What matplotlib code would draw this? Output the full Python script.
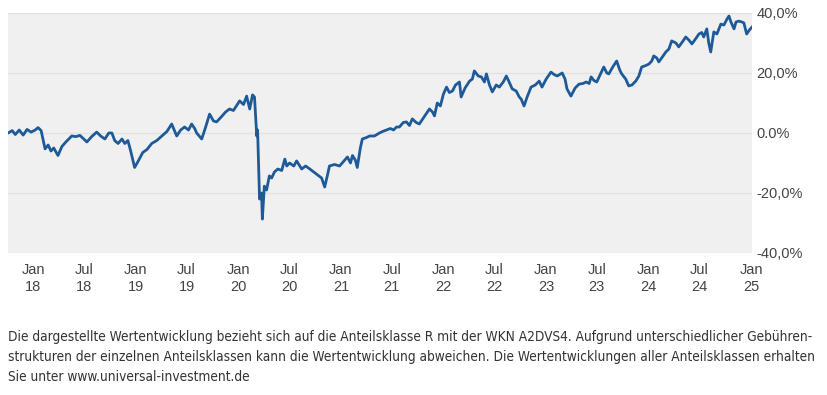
import matplotlib
matplotlib.use("Agg")
import matplotlib.pyplot as plt
import pandas as pd
from matplotlib import font_manager

dates = [
    "2017-10-03", "2017-10-18", "2017-10-29", "2017-11-12", "2017-11-26", "2017-12-10", "2017-12-24",
    "2018-01-08", "2018-01-18", "2018-01-29", "2018-02-12", "2018-02-23", "2018-03-05", "2018-03-15",
    "2018-03-30", "2018-04-13", "2018-04-27", "2018-05-18", "2018-06-02", "2018-06-16", "2018-06-30",
    "2018-07-11", "2018-07-28", "2018-08-15", "2018-08-29", "2018-09-13", "2018-09-27", "2018-10-08",
    "2018-10-18", "2018-10-30", "2018-11-13", "2018-11-23", "2018-12-04", "2018-12-14", "2018-12-28",
    "2019-01-09", "2019-01-26", "2019-02-10", "2019-02-27", "2019-03-17", "2019-04-04", "2019-04-22",
    "2019-05-09", "2019-05-20", "2019-05-27", "2019-06-10", "2019-06-24", "2019-07-08", "2019-07-19",
    "2019-07-30", "2019-08-06", "2019-08-24", "2019-09-07", "2019-09-21", "2019-10-05", "2019-10-16",
    "2019-11-03", "2019-11-17", "2019-12-01", "2019-12-15", "2020-01-06", "2020-01-20", "2020-01-31",
    "2020-02-11", "2020-02-21", "2020-02-28", "2020-03-07", "2020-03-10", "2020-03-17", "2020-03-24",
    "2020-03-27", "2020-04-03", "2020-04-11", "2020-04-21", "2020-04-29", "2020-05-09", "2020-05-21",
    "2020-06-04", "2020-06-15", "2020-06-22", "2020-07-02", "2020-07-17", "2020-07-27", "2020-08-14",
    "2020-08-28", "2020-09-12", "2020-09-26", "2020-10-10", "2020-10-24", "2020-11-04", "2020-11-14",
    "2020-11-21", "2020-12-09", "2020-12-27", "2021-01-10", "2021-01-24", "2021-02-04", "2021-02-11",
    "2021-02-21", "2021-02-28", "2021-03-11", "2021-03-18", "2021-04-02", "2021-04-13", "2021-04-30",
    "2021-05-18", "2021-05-29", "2021-06-12", "2021-06-26", "2021-07-07", "2021-07-18", "2021-07-28",
    "2021-08-11", "2021-08-22", "2021-09-02", "2021-09-12", "2021-09-26", "2021-10-07", "2021-10-25",
    "2021-11-12", "2021-11-23", "2021-11-30", "2021-12-10", "2021-12-21", "2022-01-01", "2022-01-12",
    "2022-01-22", "2022-02-02", "2022-02-13", "2022-02-27", "2022-03-05", "2022-03-19", "2022-04-04",
    "2022-04-14", "2022-04-21", "2022-05-05", "2022-05-16", "2022-05-27", "2022-06-03", "2022-06-14",
    "2022-06-24", "2022-07-08", "2022-07-19", "2022-08-02", "2022-08-13", "2022-08-23", "2022-09-03",
    "2022-09-17", "2022-09-28", "2022-10-05", "2022-10-15", "2022-10-26", "2022-11-09", "2022-11-24",
    "2022-12-08", "2022-12-18", "2023-01-02", "2023-01-19", "2023-01-30", "2023-02-10", "2023-02-28",
    "2023-03-10", "2023-03-17", "2023-03-31", "2023-04-15", "2023-04-29", "2023-05-13", "2023-05-24",
    "2023-06-04", "2023-06-11", "2023-06-21", "2023-07-01", "2023-07-16", "2023-07-26", "2023-08-06",
    "2023-08-13", "2023-08-27", "2023-09-10", "2023-09-21", "2023-09-28", "2023-10-12", "2023-10-23",
    "2023-11-03", "2023-11-17", "2023-11-28", "2023-12-08", "2023-12-23", "2024-01-03", "2024-01-13",
    "2024-01-20", "2024-01-31", "2024-02-07", "2024-02-21", "2024-03-03", "2024-03-14", "2024-03-24",
    "2024-04-08", "2024-04-18", "2024-05-02", "2024-05-13", "2024-05-24", "2024-06-04", "2024-06-18",
    "2024-06-29", "2024-07-09", "2024-07-16", "2024-07-27", "2024-08-03", "2024-08-10", "2024-08-21",
    "2024-09-01", "2024-09-15", "2024-09-26", "2024-10-07", "2024-10-14", "2024-10-21", "2024-11-01",
    "2024-11-08", "2024-11-18", "2024-11-29", "2024-12-06", "2024-12-16", "2024-12-27", "2025-01-04",
]

performance = [
    0.0, 0.8, -0.5, 1.0, -0.7, 1.2, 0.3,
    1.0, 1.8, 0.8, -5.3, -4.0, -6.0, -5.0,
    -7.5, -4.5, -3.0, -1.0, -1.2, -0.8, -2.0,
    -3.0, -1.2, 0.3, -1.0, -2.0, 0.0, 0.0,
    -2.5, -3.5, -2.0, -3.5, -2.5, -6.0, -11.5,
    -9.5, -6.5, -5.5, -3.5, -2.5, -1.0, 0.5,
    3.0, 0.5, -1.0, 1.0, 2.0, 1.0, 3.0,
    1.5, 0.0, -2.0, 2.0, 6.3, 4.0, 3.7,
    5.5, 7.0, 8.0, 7.5, 10.7, 9.5, 12.3,
    8.0, 12.7, 12.0, -1.0, 1.0, -22.0, -20.0,
    -28.7, -17.7, -19.0, -14.3, -15.0, -13.0, -12.0,
    -12.5, -8.7, -11.0, -10.0, -11.0, -9.3, -12.0,
    -11.0, -12.0, -13.0, -14.0, -15.0, -18.0, -14.0,
    -11.0, -10.5, -11.0, -9.5, -8.0, -10.0, -7.5,
    -9.0, -11.5, -5.0, -2.0, -1.5, -1.0, -1.0,
    0.0, 0.5, 1.0, 1.5, 1.0, 2.0, 2.0,
    3.5, 3.7, 2.5, 4.7, 3.5, 3.0, 5.5,
    8.0, 7.0, 5.7, 10.0, 9.0, 13.0, 15.3,
    13.5, 14.0, 16.0, 17.0, 12.0, 15.0, 17.3,
    18.0, 20.7, 19.0, 18.7, 17.0, 19.7, 16.0,
    13.7, 16.0, 15.3, 17.0, 19.0, 17.0, 14.7,
    14.0, 12.0, 11.3, 9.0, 12.0, 15.3, 16.0,
    17.3, 15.3, 18.0, 20.3, 19.5, 19.0, 20.0,
    18.0, 14.7, 12.3, 15.0, 16.3, 16.5, 17.0,
    16.5, 18.7, 17.5, 17.0, 20.0, 22.0, 20.0,
    19.7, 22.0, 24.0, 21.0, 19.7, 18.0, 15.7,
    16.0, 17.3, 19.0, 22.0, 22.5, 23.0, 24.0,
    25.7, 25.0, 23.7, 25.5, 27.0, 28.0, 30.7,
    30.0, 28.7, 30.5, 32.0, 31.0, 29.7, 31.5,
    33.0, 33.5, 32.0, 34.7, 30.0, 27.0, 33.7,
    33.0, 36.3, 36.0, 38.0, 39.0, 37.0, 34.7,
    37.0, 37.3, 37.0, 36.7, 33.0, 34.5, 35.3,
]

x_ticks = ["2018-01-01", "2018-07-01", "2019-01-01", "2019-07-01", "2020-01-01", "2020-07-01",
           "2021-01-01", "2021-07-01", "2022-01-01", "2022-07-01", "2023-01-01", "2023-07-01",
           "2024-01-01", "2024-07-01", "2025-01-01"]
x_labels = ["Jan\n18", "Jul\n18", "Jan\n19", "Jul\n19", "Jan\n20", "Jul\n20", "Jan\n21", "Jul\n21",
            "Jan\n22", "Jul\n22", "Jan\n23", "Jul\n23", "Jan\n24", "Jul\n24", "Jan\n25"]
y_ticks = [40, 20, 0, -20, -40]
y_labels = ["40,0%", "20,0%", "0.0%", "-20,0%", "-40,0%"]

footer_lines = [
    "Die dargestellte Wertentwicklung bezieht sich auf die Anteilsklasse R mit der WKN A2DVS4. Aufgrund unterschiedlicher Gebühren-",
    "strukturen der einzelnen Anteilsklassen kann die Wertentwicklung abweichen. Die Wertentwicklungen aller Anteilsklassen erhalten",
    "Sie unter www.universal-investment.de",
]

plt.rcParams['font.family'] = ['Liberation Sans', 'DejaVu Sans']

# pick the narrowest available family for the footer
names = {f.name for f in font_manager.fontManager.ttflist}
condensed = [f for f in font_manager.fontManager.ttflist
             if f.stretch in ("condensed", "semi-condensed", "extra-condensed", 500 - 125, 300) or
             "Narrow" in f.name or "Condensed" in f.name]
if condensed:
    footer_family = condensed[0].name
    footer_stretch = "condensed"
else:
    footer_family = "Lato" if "Lato" in names else "Liberation Sans"
    footer_stretch = "normal"

fig = plt.figure(figsize=(8.27, 3.95), dpi=100)
fig.patch.set_facecolor("white")
ax = fig.add_axes([8 / 827, 1 - 253 / 395, (752 - 8) / 827, (253 - 13) / 395])
ax.set_facecolor("#f0f0f0")

ax.plot(pd.to_datetime(dates), performance, color="#1f5a98", lw=2.0, solid_joinstyle="round")

ax.set_xlim(pd.Timestamp("2017-10-03"), pd.Timestamp("2025-01-04"))
ax.set_ylim(-40, 40)
ax.set_yticks(y_ticks)
ax.set_yticklabels(y_labels)
ax.yaxis.tick_right()
ax.set_xticks(pd.to_datetime(x_ticks))
ax.set_xticklabels(x_labels, linespacing=1.3)
ax.tick_params(axis="both", length=0, colors="#444444", labelsize=10.5)
ax.tick_params(axis="y", pad=3)
ax.tick_params(axis="x", pad=7)
ax.grid(axis="y", color="#e2e2e2", lw=1)
ax.set_axisbelow(True)
for s in ax.spines.values():
    s.set_visible(False)

# footer: fit the first line to the reference width (~804 px)
renderer = fig.canvas.get_renderer()
size = 11.5
probe = fig.text(0, 0, footer_lines[0], family=footer_family, fontstretch=footer_stretch, fontsize=size)
w = probe.get_window_extent(renderer).width
probe.remove()
size = min(13.0, size * 804.0 / w)

line_y = [337, 357, 377]
for txt, yy in zip(footer_lines, line_y):
    fig.text(8 / 827, 1 - yy / 395, txt, family=footer_family, fontstretch=footer_stretch,
             fontsize=size, color="#333333", va="center", ha="left")

fig.savefig("out.png", dpi=100)
